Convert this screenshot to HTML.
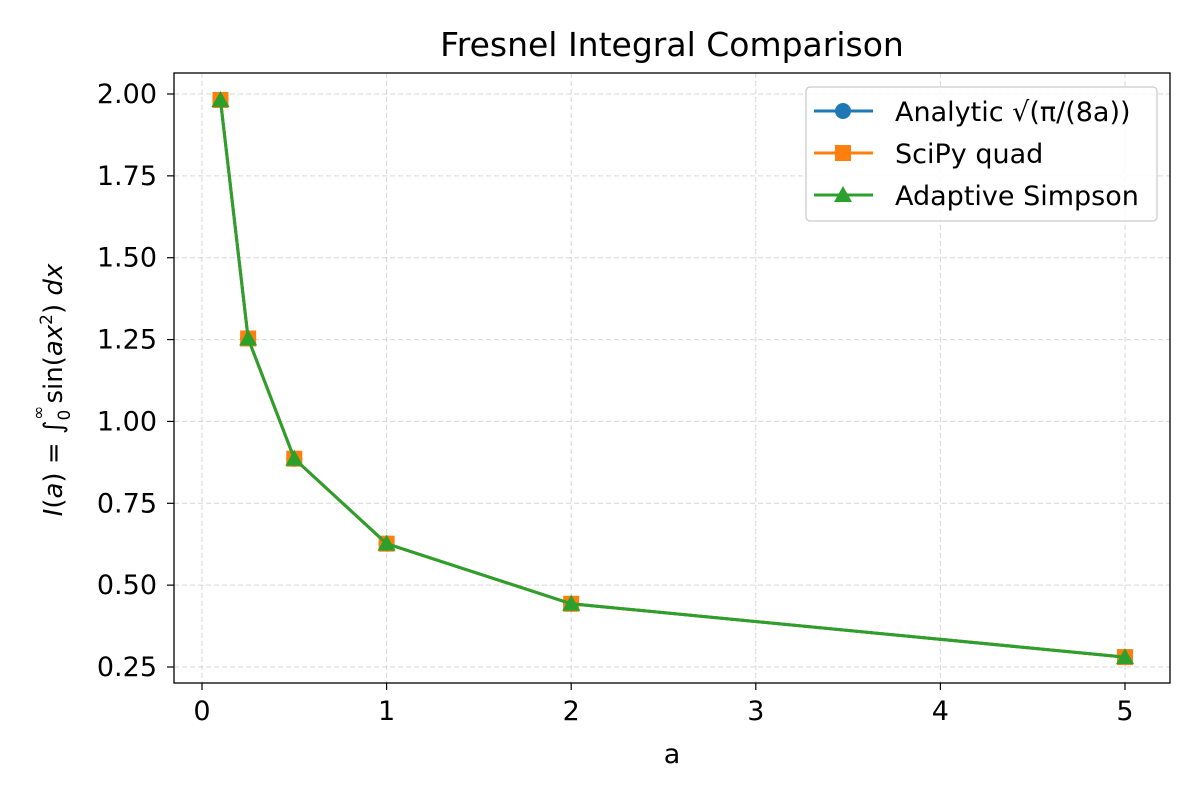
<!DOCTYPE html>
<html><head><meta charset="utf-8"><style>
body{margin:0;background:#fff}svg{display:block;font-family:"DejaVu Sans","Liberation Sans",sans-serif}
</style></head><body>
<svg id="chart" width="1200" height="800" viewBox="0 0 1200 800" xmlns="http://www.w3.org/2000/svg">
<rect width="1200" height="800" fill="#fff"/>
<g id="grid"></g>
<g id="series"></g>
<rect x="174" y="73" width="996" height="610" fill="none" stroke="#000" stroke-width="1.3"/>
<g id="ticks"></g>
<text x="672" y="56" text-anchor="middle" font-size="33">Fresnel Integral Comparison</text>
<text x="672" y="763" text-anchor="middle" font-size="27">a</text>
<text transform="translate(62,390) rotate(-90)" text-anchor="middle" font-size="26"><tspan font-style="italic">I</tspan>(<tspan font-style="italic">a</tspan>) = ∫<tspan font-size="17" dy="8">0</tspan><tspan font-size="17" dx="-10" dy="-26">∞</tspan><tspan dy="18" dx="2">sin(</tspan><tspan font-style="italic">ax</tspan><tspan font-size="17" dy="-10">2</tspan><tspan dy="10">) </tspan><tspan font-style="italic">dx</tspan></text>
<g id="legend">
<rect x="806" y="87" width="351" height="134" rx="4" fill="#fff" fill-opacity="0.85" stroke="#ccc" stroke-width="1.3"/>
</g>
</svg>
<script>
const aValues=[0.1,0.25,0.5,1,2,5];
const analytic=[1.9817,1.2533,0.8862,0.6267,0.4431,0.2803];
const scipy=[1.9817,1.2533,0.8862,0.6267,0.4431,0.2803];
const simpson=[1.9817,1.2533,0.8862,0.6267,0.4431,0.2803];
const xTicks=[0,1,2,3,4,5];
const yTicks=[0.25,0.5,0.75,1.0,1.25,1.5,1.75,2.0];
const seriesNames=["Analytic √(π/(8a))","SciPy quad","Adaptive Simpson"];
const NS="http://www.w3.org/2000/svg";
const X=v=>202+v*184.6;
const Y=v=>667-(v-0.25)/0.25*81.857;
function mk(tag,attrs,parent){const e=document.createElementNS(NS,tag);for(const k in attrs)e.setAttribute(k,attrs[k]);parent.appendChild(e);return e;}
const grid=document.getElementById('grid'),ticks=document.getElementById('ticks'),ser=document.getElementById('series'),leg=document.getElementById('legend');
xTicks.forEach(t=>{
 const g=mk('line',{x1:X(t),x2:X(t),y1:73,y2:683,stroke:'#b0b0b0','stroke-width':1,'stroke-dasharray':'5,3','stroke-opacity':0.5},grid);
 
 const l=mk('line',{x1:X(t),x2:X(t),y1:683,y2:690,stroke:'#000','stroke-width':1.2},ticks);
 
 const tx=mk('text',{x:X(t),y:720,'text-anchor':'middle','font-size':27},ticks);tx.textContent=String(t);
 
});
yTicks.forEach(t=>{
 const g=mk('line',{x1:174,x2:1170,y1:Y(t),y2:Y(t),stroke:'#b0b0b0','stroke-width':1,'stroke-dasharray':'5,3','stroke-opacity':0.5},grid);
 
 const l=mk('line',{x1:167,x2:174,y1:Y(t),y2:Y(t),stroke:'#000','stroke-width':1.2},ticks);
 
 const tx=mk('text',{x:157,y:Y(t)+9,'text-anchor':'end','font-size':27},ticks);tx.textContent=t.toFixed(2);
 
});
const colors=['#1f77b4','#ff7f0e','#2ca02c'];
const data=[analytic,scipy,simpson];
function marker(kind,x,y,c,p){
 let e;
 if(kind===0)e=mk('circle',{cx:x,cy:y,r:8,fill:c},p);
 else if(kind===1)e=mk('rect',{x:x-8,y:y-8,width:16,height:16,fill:c},p);
 else e=mk('polygon',{points:`${x},${y-9} ${x+9},${y+7} ${x-9},${y+7}`,fill:c},p);
 return e;
}
data.forEach((vals,i)=>{
 const pl=mk('polyline',{points:aValues.map((a,j)=>X(a)+','+Y(vals[j])).join(' '),fill:'none',stroke:colors[i],'stroke-width':3},ser);
 
 aValues.forEach((a,j)=>{const m=marker(i,X(a),Y(vals[j]),colors[i],ser);
  });
});
seriesNames.forEach((n,i)=>{
 const y=111+i*42;
 const l=mk('line',{x1:814,x2:873,y1:y,y2:y,stroke:colors[i],'stroke-width':3},leg);
 
 const m=marker(i,843,y,colors[i],leg);
 
 const t=mk('text',{x:895,y:y+10,'font-size':27},leg);t.textContent=n;
 
});
</script>
</body></html>
